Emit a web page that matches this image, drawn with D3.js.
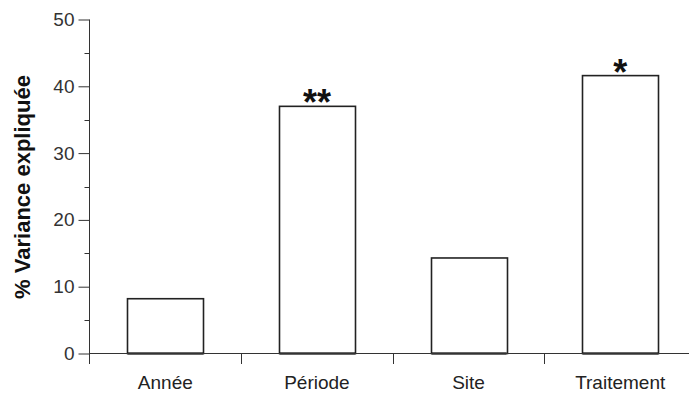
<!DOCTYPE html>
<html>
<head>
<meta charset="utf-8">
<script src="https://cdn.jsdelivr.net/npm/d3@7"></script>
<style>
  html, body { margin: 0; padding: 0; background: #fff; }
  svg { display: block; font-family: "Liberation Sans", Arial, sans-serif; }
</style>
</head>
<body>
<svg id="chart" width="689" height="394"></svg>
<script>
// Share of explained variance per factor
const categories = ["Année", "Période", "Site", "Traitement"];
const values = [8.2, 37.0, 14.3, 41.6];
const significance = ["", "**", "", "*"];
const yTicks = [0, 10, 20, 30, 40, 50];
const yMinorTicks = [5, 15, 25, 35, 45];

const svg = d3.select("#chart");
const x0 = 89.5, yBase = 353.5, yTop = 19.5;

const x = d3.scaleBand().domain(categories).range([x0, 696]).padding(0);
const y = d3.scaleLinear().domain([0, 50]).range([yBase, yTop]);
const ink = "#222";

// Bars (half the band width, centred)
const bw = x.bandwidth() / 2;
const bars = svg.append("g");
bars.selectAll("rect").data(categories).join("rect")
  .attr("x", d => Math.round(x(d) + x.bandwidth() / 2 - bw / 2) + 0.5)
  .attr("y", (d, i) => y(values[i]))
  .attr("width", Math.round(bw))
  .attr("height", (d, i) => yBase - y(values[i]))
  .attr("fill", "#fff")
  .attr("stroke", ink)
  .attr("stroke-width", 1.6);

// Heavier bar bottoms sitting on the baseline
bars.selectAll("line").data(categories).join("line")
  .attr("x1", d => Math.round(x(d) + x.bandwidth() / 2 - bw / 2) + 0.5)
  .attr("x2", d => Math.round(x(d) + x.bandwidth() / 2 + bw / 2) + 0.5)
  .attr("y1", yBase).attr("y2", yBase)
  .attr("stroke", "#111").attr("stroke-width", 2.2);

// Significance stars
svg.append("g").selectAll("text").data(categories).join("text")
  .attr("x", d => x(d) + x.bandwidth() / 2)
  .attr("y", (d, i) => y(values[i]) + 9)
  .attr("text-anchor", "middle")
  .attr("font-size", 36)
  .attr("font-weight", "bold")
  .attr("fill", "#111")
  .text((d, i) => significance[i]);

// Y axis
const yAxis = d3.axisLeft(y).tickValues(yTicks).tickSize(11).tickPadding(4).tickSizeOuter(0);
const gy = svg.append("g").attr("transform", `translate(${x0},0)`).call(yAxis);
gy.select(".domain").remove();
gy.selectAll(".tick line").attr("stroke", "#333");
gy.selectAll(".tick text").attr("font-size", 19).attr("fill", "#333")
  .attr("font-family", "Liberation Sans, Arial, sans-serif");
gy.selectAll(".minor").data(yMinorTicks).join("line")
  .attr("class", "minor")
  .attr("x1", -5).attr("x2", 0)
  .attr("y1", d => Math.round(y(d)) + 0.5).attr("y2", d => Math.round(y(d)) + 0.5)
  .attr("stroke", "#333");
gy.append("line")
  .attr("x1", 0).attr("x2", 0).attr("y1", yTop).attr("y2", 364)
  .attr("stroke", "#333");

// X axis: baseline with ticks at band boundaries
const gx = svg.append("g");
gx.append("line")
  .attr("x1", x0).attr("x2", 696).attr("y1", yBase).attr("y2", yBase)
  .attr("stroke", "#333");
gx.selectAll(".sep").data(categories.slice(1)).join("line")
  .attr("class", "sep")
  .attr("x1", d => Math.round(x(d)) + 0.5).attr("x2", d => Math.round(x(d)) + 0.5)
  .attr("y1", yBase).attr("y2", 364)
  .attr("stroke", "#333");
gx.selectAll("text").data(categories).join("text")
  .attr("x", d => x(d) + x.bandwidth() / 2)
  .attr("y", 389)
  .attr("text-anchor", "middle")
  .attr("font-size", 19)
  .attr("fill", "#222")
  .text(d => d);

// Y axis title
svg.append("text")
  .attr("transform", "translate(30,187) rotate(-90)")
  .attr("text-anchor", "middle")
  .attr("font-size", 22)
  .attr("font-weight", "bold")
  .attr("fill", "#111")
  .text("% Variance expliquée");
</script>
</body>
</html>
